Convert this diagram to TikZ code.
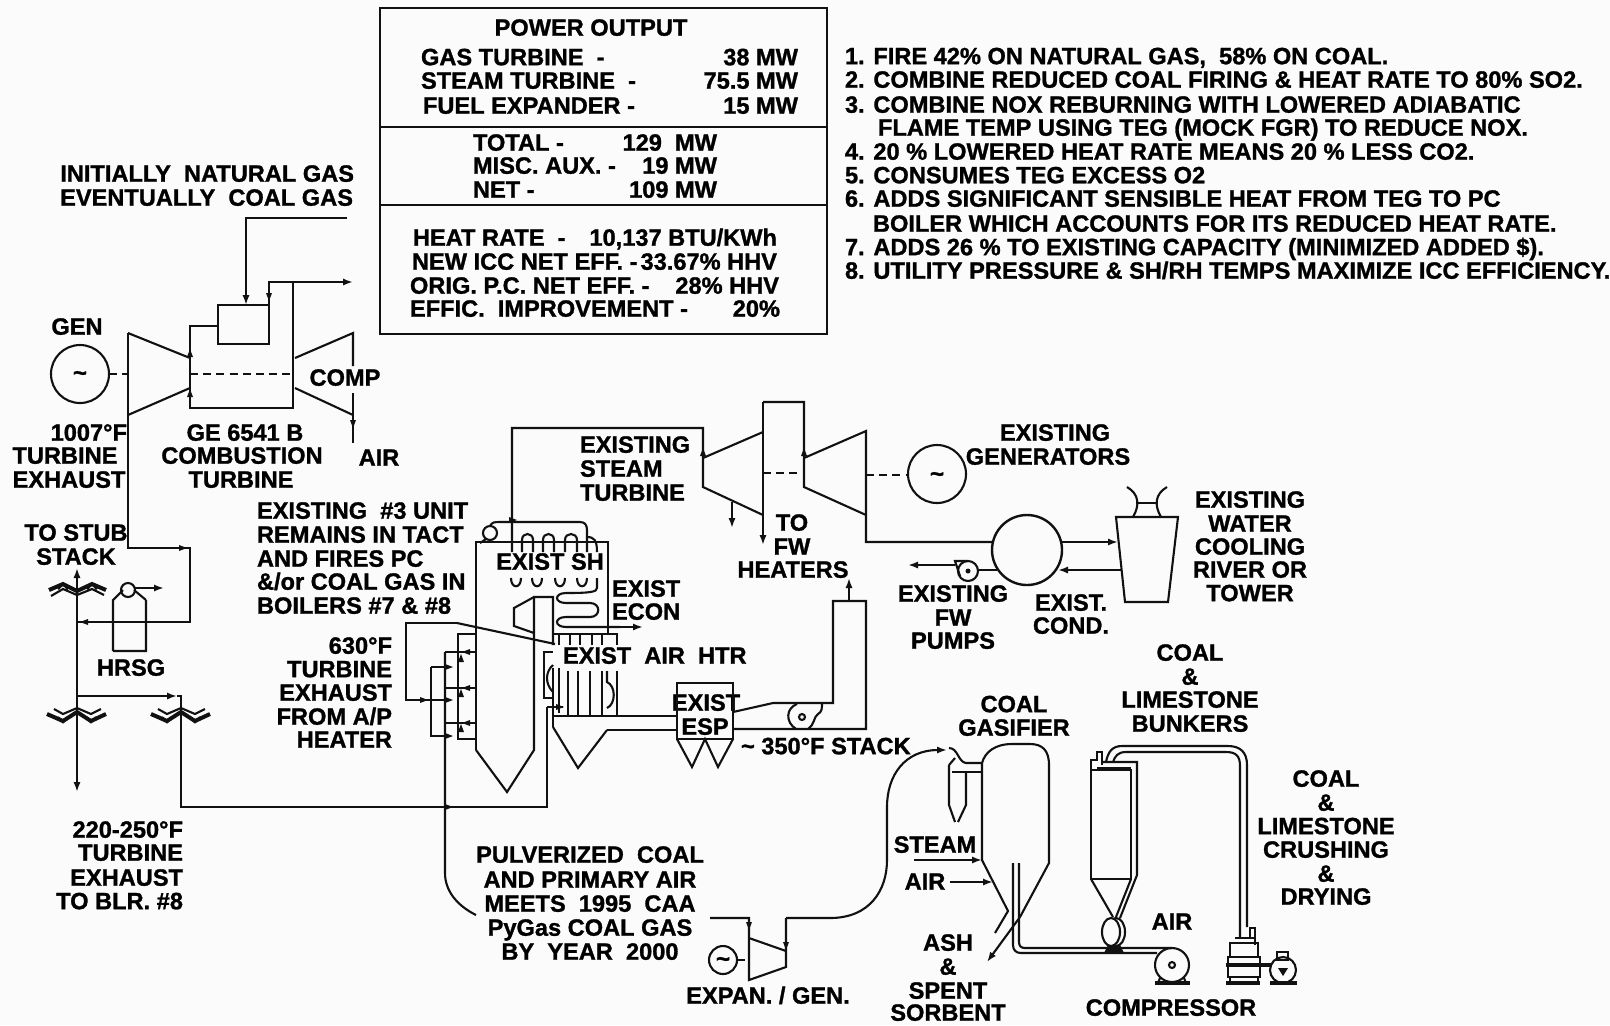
\documentclass[tikz,border=0pt]{standalone}
\usepackage{fontspec}
\setmainfont{Liberation Sans}[BoldFeatures={FakeBold=1.2}]
\usetikzlibrary{arrows.meta}
\tikzset{
  x=0.5pt,y=-0.5pt,
  lab/.style={inner sep=0pt,outer sep=0pt,yshift=0.4pt,text height=8.5pt,text depth=0pt,font=\fontsize{11.8}{11.8}\selectfont\bfseries},
  labl/.style={lab,anchor=west},
  labr/.style={lab,anchor=east},
  ln/.style={draw=ink,line width=1.05pt,line join=miter},
  flow/.style={ln,-{Latex[length=5pt,width=3.6pt]}},
  shaft/.style={draw=ink,line width=1.05pt,dash pattern=on 4pt off 2.6pt},
  band/.style={ln,line width=2pt},
}
\definecolor{ink}{HTML}{111111}
\definecolor{paper}{HTML}{FBFBFB}
\newcommand{\ArrowAt}[3]{\fill[ink,shift={(#1,#2)},rotate=#3] (5,0)--(-3,-3)--(-3,3)--cycle;}
\newcommand{\BowUp}[2]{\draw[band,shift={(#1,#2)}] (-28,0)--(-14,-6)--(0,1)--(15,-6)--(29,0);
  \draw[ln,shift={(#1,#2)}] (-26,6)--(-14,-1)--(0,5)--(15,-1)--(27,5) (-14,-6)--(-19,-1) (-14,-6)--(-9,-1) (15,-6)--(10,-1) (15,-6)--(20,-1);}
\newcommand{\BowDown}[2]{\draw[band,shift={(#1,#2)}] (-30,-1)--(-14,6)--(0,-3)--(14,6)--(29,-1);
  \draw[ln,shift={(#1,#2)}] (-23,-6)--(-14,-1)--(0,-7)--(14,-1)--(24,-6) (-19,2)--(-14,7)--(-9,2) (19,2)--(14,7)--(9,2);}
\newcommand{\Tilde}[2]{\node[inner sep=0pt,font=\fontsize{12}{12}\selectfont\bfseries] (tilde#1) at (#1,#2) {\char126};}
\begin{document}
\begin{tikzpicture}
\useasboundingbox[fill=paper] (0,0) rectangle (1610,1025);

% ---------- power table
\draw[ln] (380,8) rectangle (827,334);
\draw[ln] (380,127)--(827,127);
\draw[ln] (380,205)--(827,205);
\node[lab] (pw) at (591,28) {POWER OUTPUT};
\node[labl] (p1) at (421,57.5) {GAS TURBINE\ \ -};
\node[labl] (p2) at (421,81) {STEAM TURBINE\ \ -};
\node[labl] (p3) at (423,106) {FUEL EXPANDER -};
\node[labr] (p1v) at (798,57.5) {38 MW};
\node[labr] (p2v) at (798,81) {75.5 MW};
\node[labr] (p3v) at (798,106) {15 MW};
\node[labl] (p4) at (473,143) {TOTAL -};
\node[labl] (p5) at (473,166) {MISC. AUX. -};
\node[labl] (p6) at (473,190) {NET -};
\node[labr] (p4v) at (717,143) {129\ \ MW};
\node[labr] (p5v) at (717,166) {19 MW};
\node[labr] (p6v) at (717,190) {109 MW};
\node[labl] (p7) at (413,238) {HEAT RATE\ \ -};
\node[labr] (p7v) at (777,238) {10,137 BTU/KWh};
\node[labl] (p8) at (412,262) {NEW ICC NET EFF. -};
\node[labr] (p8v) at (777,262) {33.67\% HHV};
\node[labl] (p9) at (410,286) {ORIG. P.C. NET EFF. -};
\node[labr] (p9v) at (779,286) {28\% HHV};
\node[labl] (p10) at (410,309) {EFFIC.\ \ IMPROVEMENT -};
\node[labr] (p10v) at (780,309) {20\%};

% ---------- notes
\node[labl] (n1) at (845,56.5) {1. FIRE 42\% ON NATURAL GAS,\ \ 58\% ON COAL.};
\node[labl] (n2) at (845,80) {2. COMBINE REDUCED COAL FIRING \& HEAT RATE TO 80\% SO2.};
\node[labl] (n3) at (845,105) {3. COMBINE NOX REBURNING WITH LOWERED ADIABATIC};
\node[labl] (n3b) at (878,128) {FLAME TEMP USING TEG (MOCK FGR) TO REDUCE NOX.};
\node[labl] (n4) at (845,152) {4. 20 \% LOWERED HEAT RATE MEANS 20 \% LESS CO2.};
\node[labl] (n5) at (845,175.6) {5. CONSUMES TEG EXCESS O2};
\node[labl] (n6) at (845,199) {6. ADDS SIGNIFICANT SENSIBLE HEAT FROM TEG TO PC};
\node[labl] (n6b) at (873,224) {BOILER WHICH ACCOUNTS FOR ITS REDUCED HEAT RATE.};
\node[labl] (n7) at (845,247.5) {7. ADDS 26 \% TO EXISTING CAPACITY (MINIMIZED ADDED \$).};
\node[labl] (n8) at (845,271) {8. UTILITY PRESSURE \& SH/RH TEMPS MAXIMIZE ICC EFFICIENCY.};

% ---------- gas turbine
\node[labr] (g1) at (354,174) {INITIALLY\ \ NATURAL GAS};
\node[labr] (g2) at (353,198) {EVENTUALLY\ \ COAL GAS};
\node[lab] (gen) at (77,327) {GEN};
\node[lab] (comp) at (345,378) {COMP};
\node[labr] (t1007) at (127,433) {1007°F};
\node[lab] (t1b) at (65,456) {TURBINE};
\node[lab] (t1c) at (69,480) {EXHAUST};
\node[lab] (ge1) at (245,433) {GE 6541 B};
\node[lab] (ge2) at (242,456) {COMBUSTION};
\node[lab] (ge3) at (241,480) {TURBINE};
\node[lab] (airgt) at (379,458) {AIR};
\draw[ln] (80,374) circle (29);
\Tilde{80}{376}
\draw[shaft] (109,374)--(128,374);
\draw[shaft] (190,374)--(293,374);
\draw[ln] (218,305) rectangle (269,344);
\draw[flow] (347,218)--(246,218)--(246,305);
\draw[flow] (269,305)--(269,282)--(353,282);
\ArrowAt{269}{296}{-90}
\draw[ln] (293,282)--(293,408)--(190,408)--(190,326)--(218,326);
\draw[ln] (128,333)--(190,358);
\draw[ln] (128,415)--(190,388);
\ArrowAt{190}{354}{90}\ArrowAt{190}{394}{90}
\draw[ln] (295,358)--(353,333)--(353,366);
\draw[ln] (295,388)--(353,415);
\draw[ln] (353,393)--(353,443);
\ArrowAt{353}{423}{-90}
\draw[ln] (128,333)--(128,548)--(190,548)--(190,622)--(77,622);
\ArrowAt{182}{548}{0}\ArrowAt{85}{622}{180}

% ---------- HRSG
\node[lab] (stub1) at (76,533) {TO STUB};
\node[lab] (stub2) at (76,557) {STACK};
\node[lab] (hrsgl) at (131,668) {HRSG};
\draw[ln,{Latex[length=5pt,width=3.6pt]}-{Latex[length=5pt,width=3.6pt]}] (77,568)--(77,792);
\BowUp{77}{590}
\draw[ln] (113,651)--(113,600)--(123,590) (146,600)--(134,590) (146,600)--(146,651)--(113,651);
\draw[ln] (128,590) circle (7);
\draw[flow] (135,588)--(164,588);
\draw[flow] (77,696)--(177,696);
\draw[ln] (177,696)--(181,696)--(181,807)--(547,807)--(547,707);
\BowDown{77}{715}
\BowDown{181}{715}

% ---------- steam turbine and condenser
\node[labl] (st1) at (580,445) {EXISTING};
\node[labl] (st2) at (580,469) {STEAM};
\node[labl] (st3) at (580,493) {TURBINE};
\node[lab] (fw1) at (792,523) {TO};
\node[lab] (fw2) at (792,547) {FW};
\node[lab] (fw3) at (793,570) {HEATERS};
\node[lab] (eg1) at (1055,433) {EXISTING};
\node[lab] (eg2) at (1048,457) {GENERATORS};
\node[lab] (ep1) at (953,594) {EXISTING};
\node[lab] (ep2) at (953,618) {FW};
\node[lab] (ep3) at (953,641) {PUMPS};
\node[lab] (ec1) at (1071,603) {EXIST.};
\node[lab] (ec2) at (1071,626) {COND.};
\node[lab] (cw1) at (1250,500) {EXISTING};
\node[lab] (cw2) at (1250,524) {WATER};
\node[lab] (cw3) at (1250,547) {COOLING};
\node[lab] (cw4) at (1250,570) {RIVER OR};
\node[lab] (cw5) at (1250,593.5) {TOWER};
\draw[ln] (512,552)--(512,428)--(703,428)--(703,487)--(763,515);
\draw[ln] (703,458)--(763,432);
\ArrowAt{703}{453}{90}
\draw[flow] (763,402)--(763,545);
\draw[ln] (763,402)--(804,402)--(804,487)--(866,515);
\draw[ln] (804,458)--(866,431)--(866,542)--(992,542);
\ArrowAt{804}{453}{90}
\draw[shaft] (763,473)--(804,473);
\draw[shaft] (866,475)--(908,475);
\draw[ln] (937,474) circle (29);
\Tilde{937}{477}
\draw[flow] (732,502)--(732,528);
\draw[ln,line width=1.2pt] (1027,550) circle (35);
\draw[flow] (1062,542)--(1118,542);
\draw[flow] (1122,570)--(1058,570);
\draw[ln] (1116,517)--(1178,517)--(1168,602)--(1125,602)--cycle;
\draw[ln] (1133,517) .. controls (1140,505) and (1139,494) .. (1127,487);
\draw[ln] (1161,517) .. controls (1154,505) and (1155,494) .. (1167,487);
\draw[ln] (1136,503)--(1158,503);
\draw[ln] (968,571) circle (10);
\fill[ink] (968,571) circle (2.5);
\draw[ln] (968,561)--(955,561)--(960,576);
\draw[flow] (955,565)--(908,565);
\draw[ln] (978,570)--(997,570);

% ---------- boiler
\node[labl] (b1) at (257,511) {EXISTING\ \ \#3 UNIT};
\node[labl] (b2) at (257,535) {REMAINS IN TACT};
\node[labl] (b3) at (257,559) {AND FIRES PC};
\node[labl] (b4) at (257,582) {\&/or COAL GAS IN};
\node[labl] (b5) at (257,606) {BOILERS \#7 \& \#8};
\node[labr] (h1) at (392,646) {630°F};
\node[labr] (h2) at (392,669.5) {TURBINE};
\node[labr] (h3) at (392,693) {EXHAUST};
\node[labr] (h4) at (392,717) {FROM A/P};
\node[labr] (h5) at (392,740) {HEATER};
\node[labr] (x1) at (183,830) {220-250°F};
\node[labr] (x2) at (183,853) {TURBINE};
\node[labr] (x3) at (183,878) {EXHAUST};
\node[labr] (x4) at (183,901.5) {TO BLR. \#8};
\node[lab] (sh) at (550,562) {EXIST SH};
\node[labl] (ec) at (612,589) {EXIST};
\node[labl] (ec2b) at (612,612) {ECON};
\node[labl] (ah) at (563,656) {EXIST\ \ AIR\ \ HTR};
\node[lab] (esp1) at (706,703) {EXIST};
\node[lab] (esp2) at (705,727) {ESP};
\node[labl] (st350) at (741,746.5) {\char126\ 350°F STACK};
% furnace
\draw[ln] (476,750)--(476,542)--(608,542)--(608,634);
\draw[ln] (476,750)--(507,792)--(534,750)--(534,597)--(553,597)--(553,645);
\draw[ln] (534,597)--(514,608)--(514,626)--(534,633);
% drum + steam circuit
\draw[ln] (490,533) circle (7);
\draw[ln] (480,543)--(486,539) (490,526) .. controls (492,522) and (495,522) .. (499,522)--(580,522) .. controls (585,522) and (587,525) .. (587,530)--(587,552);
\ArrowAt{512}{520}{0}
\draw[ln] (522,552)--(522,540) .. controls (522,532) and (533,532) .. (533,540)--(533,552)
  (543,552)--(543,540) .. controls (543,532) and (554,532) .. (554,540)--(554,552)
  (565,552)--(565,540) .. controls (565,532) and (577,532) .. (577,540)--(577,552)
  (587,537) .. controls (594,537) and (597,540) .. (597,552);
\foreach \ux/\un in {516/a,537/b,560/c,582/d}{
  \draw[ln] (\ux-5,578) .. controls (\ux-5,589) and (\ux+5,589) .. (\ux+5,578);}
% economiser
\draw[ln] (597,578)--(597,588) .. controls (597,592) and (590,593) .. (566,593)
  .. controls (554,593) and (554,603) .. (566,603)--(590,603)
  .. controls (601,603) and (601,617) .. (590,617)--(566,617)
  .. controls (554,617) and (554,627) .. (566,627)--(620,627);
\draw[flow] (620,627)--(643,627);
% air heater
\draw[ln] (553,634)--(617,634)--(617,645);
\draw[ln] (617,671)--(617,716);
\foreach \tx in {559,570,580,592,602}{\draw[ln] (\tx,635)--(\tx,645);}
\foreach \tx in {568,578,590,602}{\draw[ln] (\tx,671)--(\tx,716);}
\draw[ln] (559,668)--(559,713) (553,668)--(553,727);
\draw[ln] (553,716)--(677,716);
\draw[ln] (607,730)--(677,730);
\draw[ln] (553,727)--(578,768)--(607,730);
\draw[ln] (553,652)--(544,652)--(544,698)--(553,698);
\draw[ln] (553,665) .. controls (545,672) and (545,684) .. (553,692);
\draw[ln] (607,671)--(607,682) .. controls (616,686) and (616,704) .. (607,708);
\draw[ln] (547,707)--(563,707);
\ArrowAt{559}{707}{0}
% ESP, outlet duct, fan and stack
\draw[ln] (677,683) rectangle (733,739);
\draw[ln] (677,739)--(692,767)--(705,739)--(718,767)--(733,739);
\draw[ln] (733,712)--(773,703)--(833,703)--(833,601)--(866,601)--(866,729)--(733,729);
\draw[flow] (849,601)--(849,578);
\draw[ln] (797,704) .. controls (786,708) and (785,722) .. (796,729)
  (808,729) .. controls (814,726) and (814,716) .. (818,714) .. controls (822,712) and (822,708) .. (822,703);
\draw[ln] (802,717) circle (3);
% burner piping
\draw[ln] (476,634)--(458,634)--(458,739)--(476,739);
\draw[ln] (457,623)--(406,623)--(406,700)--(445,700);
\draw[ln] (457,623)--(555,644);
\ArrowAt{423}{700}{0}
\draw[ln] (445,652)--(445,873) .. controls (445,890) and (456,905) .. (476,915);
\draw[ln] (431,667)--(445,667);
\draw[ln] (431,667)--(431,736)--(445,736);
\draw[ln] (445,652)--(476,652) (445,688)--(476,688) (445,723)--(476,723);
\ArrowAt{467}{652}{180}\ArrowAt{467}{688}{180}\ArrowAt{467}{723}{180}
\ArrowAt{461}{659}{90}\ArrowAt{461}{694}{90}\ArrowAt{461}{729}{90}
\ArrowAt{448}{667}{0}\ArrowAt{448}{700}{0}\ArrowAt{448}{736}{0}
\ArrowAt{448}{807}{0}
% coal gas to expander
\draw[ln] (710,918)--(749,918)--(749,980)--(786,967)--(786,918);
\ArrowAt{749}{925}{-90}\ArrowAt{786}{945}{-90}
\draw[ln] (749,938)--(786,951);
\draw[ln] (723,960) circle (14);
\Tilde{723}{962}
\draw[ln] (737,960)--(745,960);
\draw[flow] (786,918)--(830,918) .. controls (870,918) and (887,890) .. (887,860)--(887,807) .. controls (887,775) and (905,750) .. (947,750);

% ---------- labels lower
\node[lab] (pc1) at (590,855) {PULVERIZED\ \ COAL};
\node[lab] (pc2) at (590,880) {AND PRIMARY AIR};
\node[lab] (pc3) at (590,904) {MEETS\ \ 1995\ \ CAA};
\node[lab] (pc4) at (590,928) {PyGas COAL GAS};
\node[lab] (pc5) at (590,952) {BY\ \ YEAR\ \ 2000};
\node[lab] (exg) at (768,996) {EXPAN. / GEN.};
\node[lab] (cg1) at (1014,704.5) {COAL};
\node[lab] (cg2) at (1014,728) {GASIFIER};
\node[lab] (stm) at (935,845) {STEAM};
\node[lab] (agi) at (925,882) {AIR};
\node[lab] (as1) at (948,943) {ASH};
\node[lab] (as2) at (948,967) {\&};
\node[lab] (as3) at (948,991) {SPENT};
\node[lab] (as4) at (948,1013) {SORBENT};
\node[lab] (cb1) at (1190,653) {COAL};
\node[lab] (cb2) at (1190,677) {\&};
\node[lab] (cb3) at (1190,700) {LIMESTONE};
\node[lab] (cb4) at (1190,724) {BUNKERS};
\node[lab] (cc1) at (1326,779) {COAL};
\node[lab] (cc2) at (1326,803) {\&};
\node[lab] (cc3) at (1326,826.5) {LIMESTONE};
\node[lab] (cc4) at (1326,850) {CRUSHING};
\node[lab] (cc5) at (1326,874) {\&};
\node[lab] (cc6) at (1326,897) {DRYING};
\node[lab] (airc) at (1172,922) {AIR};
\node[lab] (cmpr) at (1171,1008) {COMPRESSOR};

% ---------- gasifier
\draw[ln] (949,748) .. controls (958,748) and (958,762) .. (966,763)--(982,763);
\draw[ln] (949,765)--(949,805)--(955,822);
\draw[ln] (966,772)--(966,805)--(958,822);
\draw[ln] (952,772)--(983,772);
\draw[ln] (949,765)--(955,758);
\draw[ln] (982,763) .. controls (985,752) and (995,744) .. (1012,744)--(1030,744) .. controls (1042,744) and (1049,750) .. (1049,765)--(1049,863)--(1020,917);
\draw[ln] (982,763)--(982,860)--(1008,911)--(995,933);
\draw[flow] (1020,917)--(987,962);
\draw[flow] (914,860)--(982,860);
\draw[flow] (950,882)--(993,882);
\draw[ln] (1013,863)--(1013,945) .. controls (1013,950) and (1016,953) .. (1021,953)--(1157,953);
\draw[ln] (1019,863)--(1019,942) .. controls (1019,946) and (1021,948) .. (1025,948)--(1172,948);

% ---------- bunker
\draw[ln] (1091,770) rectangle (1131,879);
\draw[ln] (1091,770)--(1091,760)--(1097,760)--(1097,752)--(1102,752)--(1102,765);
\draw[ln] (1097,768)--(1131,768);
\draw[ln] (1103,762)--(1137,762)--(1137,875)--(1120,918);
\draw[ln] (1091,879)--(1113,917);
\draw[ln] (1131,879)--(1116,917);
\draw[ln,fill=paper] (1116,932) ellipse (9 and 14);
\draw[ln,fill=paper] (1111,932) ellipse (9 and 14);
\fill[ink] (1104,953)--(1108,945)--(1120,945)--(1124,953)--cycle;
\draw[ln] (1106,762) .. controls (1108,752) and (1112,746) .. (1122,746)--(1228,746) .. controls (1240,746) and (1247,752) .. (1247,765)--(1247,927);
\draw[ln] (1113,762) .. controls (1115,756) and (1118,752) .. (1126,752)--(1226,752) .. controls (1236,752) and (1240,756) .. (1240,766)--(1240,938);
% compressor
\draw[ln] (1172,965) circle (17);
\draw[ln] (1172,965) circle (3);
\draw[ln,line width=1.6pt] (1155,983)--(1190,983);
\draw[ln] (1160,978)--(1158,983) (1184,978)--(1186,983);
% crusher
\draw[ln] (1235,938)--(1255,938);
\draw[ln] (1250,938)--(1250,928)--(1255,928)--(1255,945);
\draw[ln] (1230,958)--(1230,943)--(1258,943)--(1258,958);
\draw[ln] (1228,957) rectangle (1260,977);
\draw[ln,line width=2pt] (1226,965)--(1262,965);
\draw[ln,line width=1.6pt] (1226,983)--(1260,983);
\draw[ln] (1230,977)--(1230,983) (1258,977)--(1258,983);
\draw[ln,line width=2pt] (1260,965)--(1271,965);
\draw[ln] (1283,970) circle (13);
\draw[ln] (1277,952) rectangle (1288,960);
\fill[ink] (1278,968)--(1288,968)--(1283,976)--cycle;
\draw[ln,line width=1.6pt] (1270,983)--(1297,983);
\end{tikzpicture}
\end{document}
